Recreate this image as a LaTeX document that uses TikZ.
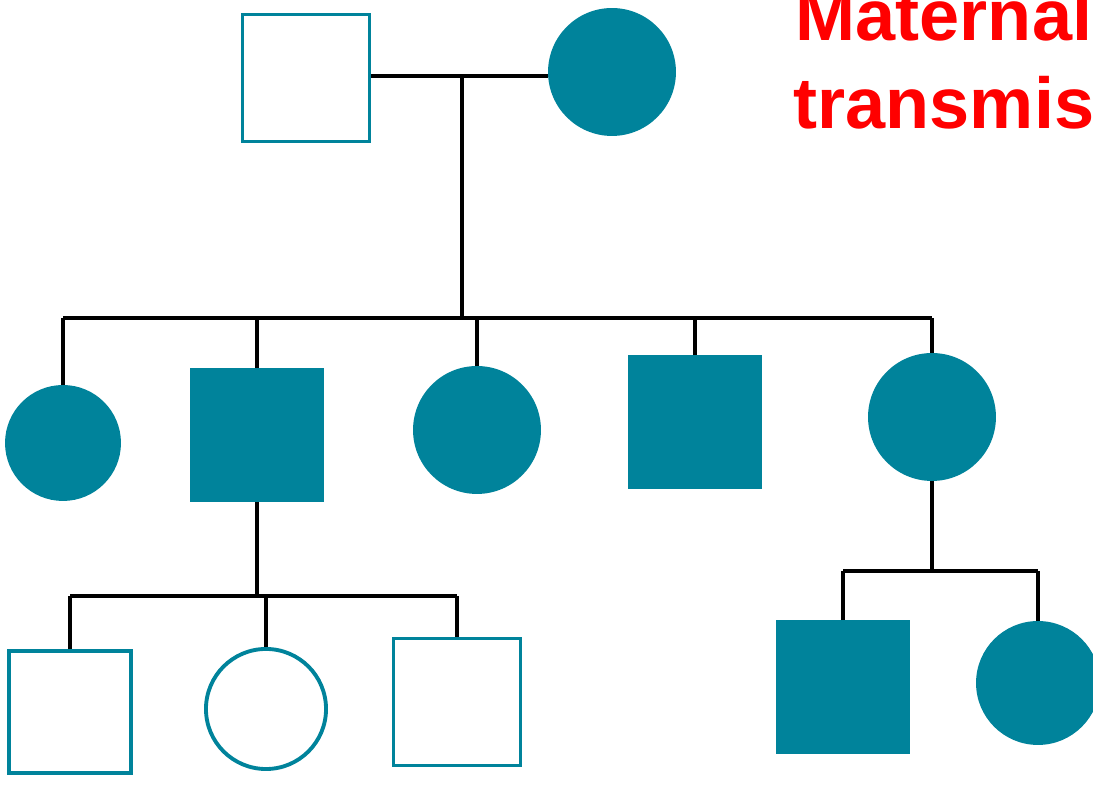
\documentclass[tikz,border=0pt]{standalone}
\usepackage{fontspec}
\newfontfamily\titlefont{Liberation Sans}
\usepackage{tikz,xcolor}
\usetikzlibrary{calc}
\definecolor{pedteal}{RGB}{0,131,155}
\tikzset{
  % pedigree symbols: squares for males, circles for females
  male/.style={draw=pedteal, line width=1.1pt, rectangle, minimum size=#1, inner sep=0pt},
  female/.style={draw=pedteal, line width=1.1pt, circle, minimum size=#1, inner sep=0pt},
  affected/.style={fill=pedteal},
  % lines of descent
  kin/.style={black, line width=0.9pt},
}

\begin{document}
\begin{tikzpicture}[x=0.01cm, y=-0.01cm]
\useasboundingbox (0,0) rectangle (1093,792);
\clip (0,0) rectangle (1093,792);
\fill[white] (0,0) rectangle (1093,792);

% generation I
\node[male=1.27cm] (f1) at (306,78) {};
\node[female=1.24cm, affected] (m1) at (612,72) {};
% generation II
\node[female=1.12cm, affected] (c1) at (63,443) {};
\node[male=1.30cm, affected] (c2) at (257,435) {};
\node[female=1.24cm, affected] (c3) at (477,430) {};
\node[male=1.30cm, affected] (c4) at (695,422) {};
\node[female=1.24cm, affected] (c5) at (932,417) {};
% generation III
\node[male=1.22cm] (d1) at (70,712) {};
\node[female=1.20cm] (d2) at (266,709) {};
\node[male=1.27cm] (d3) at (457,702) {};
\node[male=1.30cm, affected] (e1) at (843,687) {};
\node[female=1.20cm, affected] (e2) at (1038,683) {};

\coordinate (mate1) at (462,76);
\coordinate (sib1) at (470,318);
\coordinate (sib2) at (260,596);
\coordinate (sib3) at (932,571);

\draw[kin] (f1.east |- mate1) -- (m1.west |- mate1);
\draw[kin] (mate1) -- (mate1 |- sib1);
\draw[kin] (c1.north |- sib1) -- (c5.north |- sib1);
\foreach \k in {c1,c2,c3,c4,c5}
  \draw[kin] (\k.north) -- (\k.north |- sib1);

\draw[kin] (c2.south) -- (c2.south |- sib2);
\draw[kin] (d1.north |- sib2) -- (d3.north |- sib2);
\foreach \k in {d1,d2,d3}
  \draw[kin] (\k.north) -- (\k.north |- sib2);

\draw[kin] (c5.south) -- (c5.south |- sib3);
\draw[kin] (e1.north |- sib3) -- (e2.north |- sib3);
\foreach \k in {e1,e2}
  \draw[kin] (\k.north) -- (\k.north |- sib3);

% title
\node[anchor=base west, inner sep=0pt, text=red, font=\titlefont\bfseries\fontsize{20.5}{25}\selectfont] (title1) at (795,41) {Maternal};
\node[anchor=base west, inner sep=0pt, text=red, font=\titlefont\bfseries\fontsize{20.5}{25}\selectfont] (title2) at (793,129) {transmission};
\end{tikzpicture}
\end{document}
